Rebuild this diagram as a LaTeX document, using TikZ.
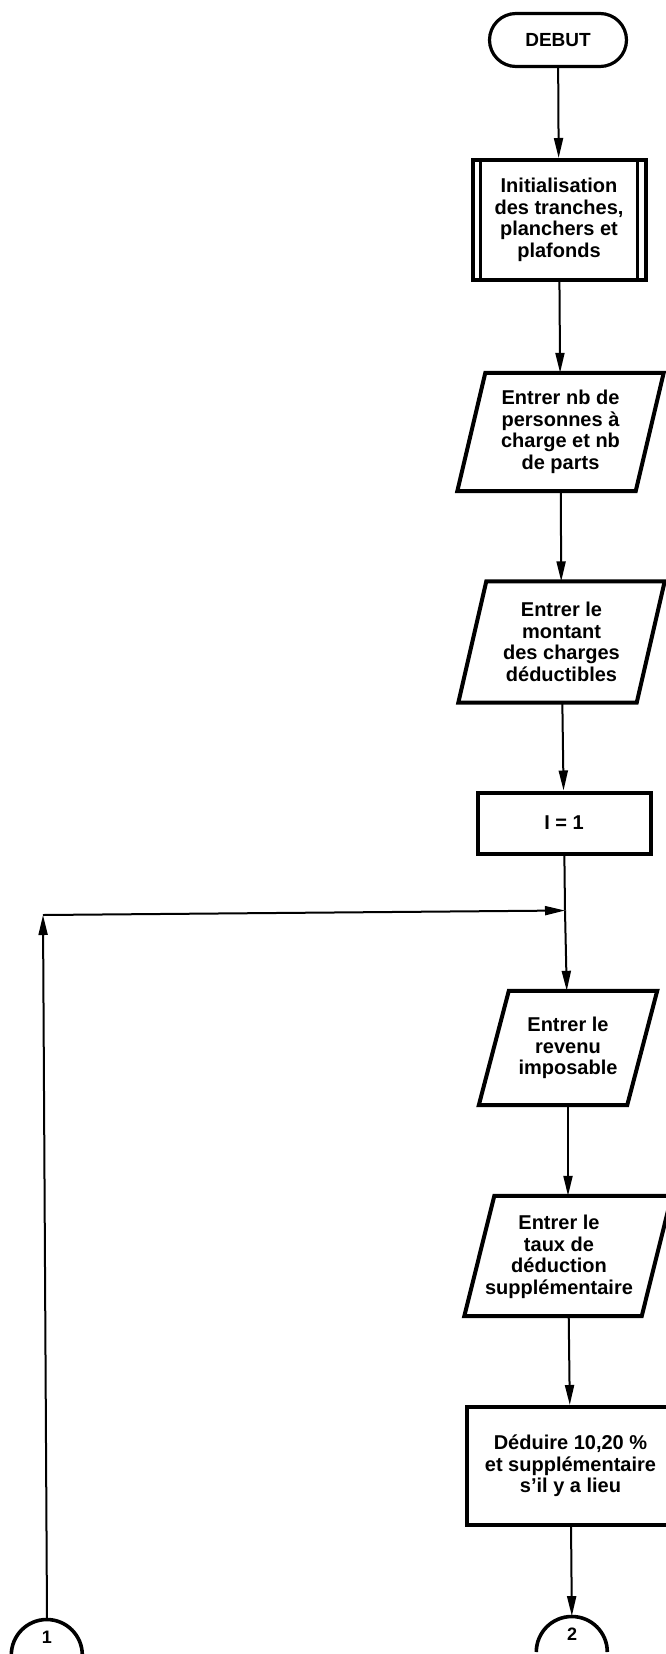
\documentclass[tikz,border=0pt]{standalone}
\usepackage{fontspec}
\setmainfont{Liberation Sans}
\usetikzlibrary{arrows.meta,calc}
\newcommand{\ppgram}[2]{%
  \draw[boxline] ($(#1.north west)+(#2,0)$) -- ($(#1.north east)+(#2,0)$) -- ($(#1.south east)+(-#2,0)$) -- ($(#1.south west)+(-#2,0)$) -- cycle;}
\begin{document}
\begin{tikzpicture}[x=1pt,y=-1pt,
  txt/.style={font=\bfseries\fontsize{20}{21.5}\selectfont, align=center, inner sep=0pt},
  boxline/.style={line width=4pt, line join=miter},
  procbox/.style={txt, draw, boxline},
  ionode/.style={txt},
  flow/.style={line width=2pt, -{Triangle[length=20pt,width=9pt]}},
  plainline/.style={line width=2pt},
  connline/.style={line width=3.6pt},
  digit/.style={txt, font=\bfseries\fontsize{18}{18}\selectfont}]
\useasboundingbox (0,0) rectangle (666,1654);
\fill[white] (0,0) rectangle (666,1654);

% terminal
\node[procbox, line width=3.2pt, rounded corners=26.5pt, minimum width=137pt, minimum height=53pt,
      font=\bfseries\fontsize{19}{20}\selectfont] (debut) at (558,40) {DEBUT};

% predefined process
\node[procbox, minimum width=173pt, minimum height=120pt] (init) at (559,220)
  {Initialisation\\des tranches,\\planchers et\\plafonds};
\draw[line width=3.6pt] ($(init.north west)+(10,0)$) -- ($(init.south west)+(10,0)$);
\draw[line width=3.6pt] ($(init.north east)+(-10,0)$) -- ($(init.south east)+(-10,0)$);

% inputs
\node[ionode, minimum width=178pt, minimum height=118pt] (p1) at (560.5,432)
  {Entrer nb de\\personnes à\\charge et nb\\de parts};
\ppgram{p1}{14}
\node[ionode, minimum width=178pt, minimum height=121pt] (p2) at (561.5,642)
  {Entrer le\\montant\\des charges\\déductibles};
\ppgram{p2}{14}

\node[procbox, minimum width=173pt, minimum height=61pt] (i1) at (564,823) {I = 1};

\coordinate (merge) at (565,910.5);
\coordinate (corner) at (43,915);

\node[ionode, minimum width=148pt, minimum height=114pt] (p3) at (568,1048)
  {Entrer le\\revenu\\imposable};
\ppgram{p3}{15}
\node[ionode, minimum width=177pt, minimum height=120pt] (p4) at (568,1256) {};
\ppgram{p4}{15}
\node[txt] (p4t) at (559,1257) {Entrer le\\taux de\\déduction\\supplémentaire};

\node[procbox, minimum width=207pt, minimum height=118pt] (box5) at (570.5,1466)
  {Déduire 10,20 \%\\et supplémentaire\\s’il y a lieu};

% connectors
\node[digit, minimum width=71pt, minimum height=35.5pt, anchor=south] (c2) at (572,1652) {2};
\draw[connline] (c2.south west) arc[start angle=180, end angle=0, radius=35.5pt];
\node[digit, minimum width=71pt, minimum height=35.5pt, anchor=south] (c1) at (47,1655) {1};
\draw[connline] (c1.south west) arc[start angle=180, end angle=0, radius=35.5pt];

% flow lines
\draw[flow] (debut) -- (init);
\draw[flow] (init) -- (p1);
\draw[flow] (p1) -- (p2);
\draw[flow] (p2) -- (i1);
\draw[plainline] (i1) -- (merge);
\draw[flow] (merge) -- (p3);
\draw[flow] (p3) -- (p4);
\draw[flow] (p4) -- (box5);
\draw[flow] (box5) -- (c2);
\draw[flow] (c1.north) -- (corner);
\draw[flow] (corner) -- (merge);
\end{tikzpicture}
\end{document}
